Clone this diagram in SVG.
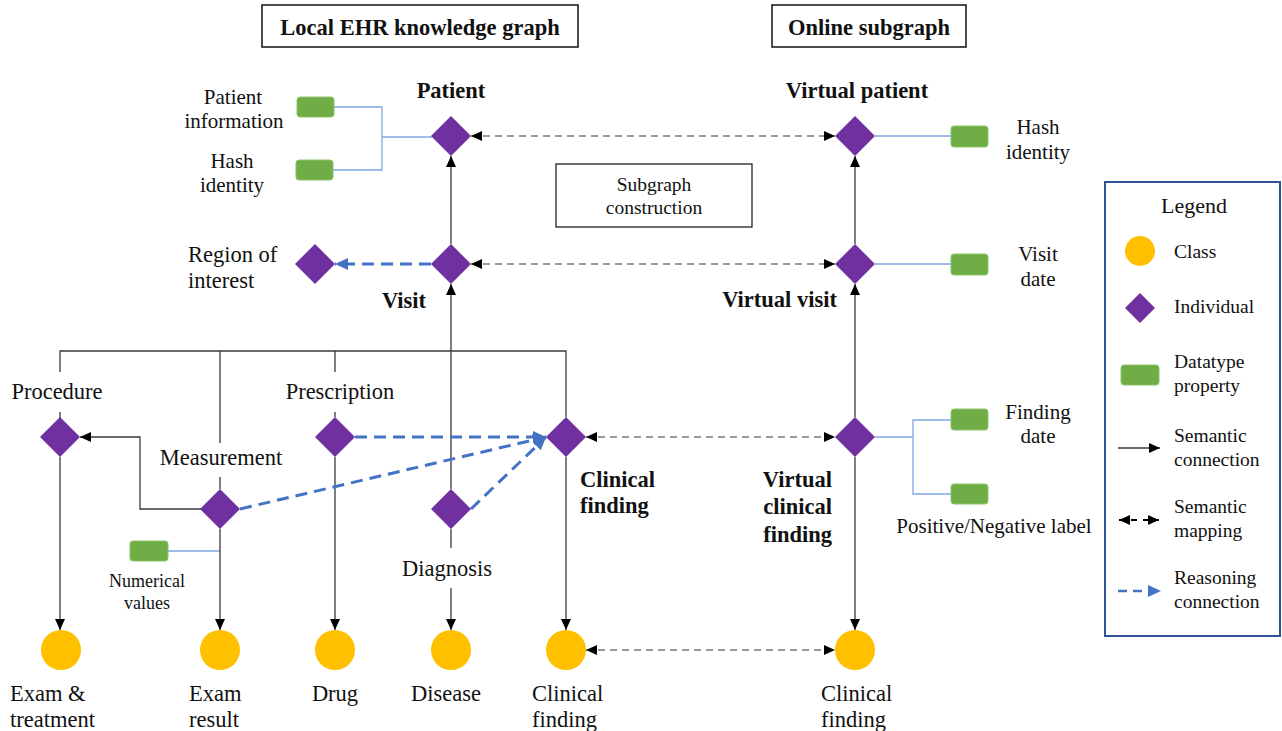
<svg xmlns="http://www.w3.org/2000/svg" xmlns:xlink="http://www.w3.org/1999/xlink" width="1282" height="731" viewBox="0 0 1282 731">
  <style>
    text { font-family: "Liberation Serif", "Times New Roman", serif; fill: #111; }
    .t21 { font-size: 21px; }
    .t22 { font-size: 22.5px; }
    .b { font-size: 22.5px; font-weight: bold; }
    .small { font-size: 18px; }
    .leg { font-size: 19.5px; }
    .mid { text-anchor: middle; }
    .end { text-anchor: end; }
    .ind { fill: #7030A0; }
    .cls { fill: #FFC000; }
    .prop { fill: #70AD47; stroke: #8CC468; stroke-width: 1; }
    .sem { fill: none; stroke: #3a3a3a; stroke-width: 1.3; }
    .map { fill: none; stroke: #7a7a7a; stroke-width: 1.6; stroke-dasharray: 7 5; }
    .reason { fill: none; stroke: #4472C4; stroke-width: 3; stroke-dasharray: 12 7; }
    .pline { fill: none; stroke: #7FA6E3; stroke-width: 1.3; }
    .frame { fill: #fff; stroke: #111; stroke-width: 1.5; }
    .mask { fill: #fff; stroke: none; }
  </style>
  <defs>
    <path id="dia" d="M0,-20 L20,0 L0,20 L-20,0 Z"/>
    <path id="dia-small" d="M0,-15 L15,0 L0,15 L-15,0 Z"/>
    <marker id="ah" viewBox="0 0 11 10" refX="11" refY="5" markerWidth="11" markerHeight="10" markerUnits="userSpaceOnUse" orient="auto-start-reverse">
      <path d="M0,0 L11,5 L0,10 Z" fill="#000"/>
    </marker>
    <marker id="ahBlue" viewBox="0 0 12 11" refX="12" refY="5.5" markerWidth="13" markerHeight="12" markerUnits="userSpaceOnUse" orient="auto-start-reverse">
      <path d="M0,0 L12,5.5 L0,11 Z" fill="#4472C4"/>
    </marker>
  </defs>

  <rect width="1282" height="731" fill="#fff"/>

  <!-- section headings -->
  <g id="heading-local">
    <rect class="frame" x="262" y="5" width="316" height="42"/>
    <text class="b mid" x="420" y="35">Local EHR knowledge graph</text>
  </g>
  <g id="heading-online">
    <rect class="frame" x="772" y="5" width="194" height="42"/>
    <text class="b mid" x="869" y="35">Online subgraph</text>
  </g>
  <g id="subgraph-construction">
    <rect x="556" y="164" width="196" height="63" fill="#fff" stroke="#222" stroke-width="1.3"/>
    <text class="leg mid" x="654" y="191">Subgraph</text>
    <text class="leg mid" x="654" y="214">construction</text>
  </g>

  <!-- connectors -->
  <g id="connectors">
    <!-- datatype property links -->
    <polyline class="pline" points="334,107 382,107 382,170 333,170"/>
    <line class="pline" x1="382" y1="137" x2="432" y2="137"/>
    <line class="pline" x1="220" y1="551" x2="168" y2="551"/>
    <line class="pline" x1="875" y1="136" x2="951" y2="136"/>
    <line class="pline" x1="875" y1="264" x2="951" y2="264"/>
    <line class="pline" x1="875" y1="437" x2="913" y2="437"/>
    <polyline class="pline" points="951,420 913,420 913,494 951,494"/>

    <!-- semantic connections (local graph) -->
    <line class="sem" x1="451" y1="244" x2="451" y2="156" marker-end="url(#ah)"/>
    <line class="sem" x1="451" y1="489" x2="451" y2="284" marker-end="url(#ah)"/>
    <polyline class="sem" points="60,418 60,351 566,351 566,417"/>
    <line class="sem" x1="220" y1="351" x2="220" y2="489"/>
    <line class="sem" x1="335" y1="351" x2="335" y2="417"/>
    <polyline class="sem" points="201,509 140,509 140,437 80,437" marker-end="url(#ah)"/>
    <line class="sem" x1="60" y1="457" x2="60" y2="630" marker-end="url(#ah)"/>
    <line class="sem" x1="220" y1="529" x2="220" y2="630" marker-end="url(#ah)"/>
    <line class="sem" x1="335" y1="457" x2="335" y2="630" marker-end="url(#ah)"/>
    <line class="sem" x1="451" y1="529" x2="451" y2="630" marker-end="url(#ah)"/>
    <line class="sem" x1="566" y1="457" x2="566" y2="630" marker-end="url(#ah)"/>

    <!-- semantic connections (online subgraph) -->
    <line class="sem" x1="855" y1="244" x2="855" y2="156" marker-end="url(#ah)"/>
    <line class="sem" x1="855" y1="417" x2="855" y2="284" marker-end="url(#ah)"/>
    <line class="sem" x1="855" y1="457" x2="855" y2="630" marker-end="url(#ah)"/>

    <!-- semantic mappings -->
    <line class="map" x1="471" y1="136" x2="835" y2="136" marker-start="url(#ah)" marker-end="url(#ah)"/>
    <line class="map" x1="471" y1="264" x2="835" y2="264" marker-start="url(#ah)" marker-end="url(#ah)"/>
    <line class="map" x1="586" y1="437" x2="835" y2="437" marker-start="url(#ah)" marker-end="url(#ah)"/>
    <line class="map" x1="586" y1="650" x2="835" y2="650" marker-start="url(#ah)" marker-end="url(#ah)"/>

    <!-- reasoning connections -->
    <line class="reason" x1="431" y1="264" x2="335" y2="264" marker-end="url(#ahBlue)"/>
    <line class="reason" x1="355" y1="437" x2="546" y2="437" marker-end="url(#ahBlue)"/>
    <line class="reason" x1="240" y1="509" x2="546" y2="437" marker-end="url(#ahBlue)"/>
    <line class="reason" x1="471" y1="509" x2="546" y2="437" marker-end="url(#ahBlue)"/>
  </g>

  <!-- local EHR knowledge graph -->
  <g id="patient">
    <use xlink:href="#dia" class="ind" x="451" y="136"/>
    <text class="b mid" x="451" y="98">Patient</text>
  </g>
  <g id="patient-information">
    <rect class="prop" x="297" y="97" width="37" height="20" rx="3"/>
    <text class="t21 mid" x="233" y="104">Patient</text>
    <text class="t21 mid" x="234" y="128">information</text>
  </g>
  <g id="patient-hash-identity">
    <rect class="prop" x="296" y="160" width="37" height="20" rx="3"/>
    <text class="t21 mid" x="232" y="168">Hash</text>
    <text class="t21 mid" x="232" y="192">identity</text>
  </g>
  <g id="visit">
    <use xlink:href="#dia" class="ind" x="451" y="264"/>
    <text class="b mid" x="404" y="308">Visit</text>
  </g>
  <g id="region-of-interest">
    <use xlink:href="#dia" class="ind" x="315" y="264"/>
    <text class="t22" x="188" y="262">Region of</text>
    <text class="t22" x="188" y="288">interest</text>
  </g>
  <g id="procedure">
    <rect class="mask" x="0" y="372" width="118" height="40"/>
    <text class="t22 mid" x="57" y="399">Procedure</text>
    <use xlink:href="#dia" class="ind" x="60" y="437"/>
  </g>
  <g id="measurement">
    <rect class="mask" x="150" y="443" width="149" height="34"/>
    <text class="t22 mid" x="221" y="465">Measurement</text>
    <use xlink:href="#dia" class="ind" x="220" y="509"/>
  </g>
  <g id="numerical-values">
    <rect class="prop" x="130" y="541" width="38" height="20" rx="3"/>
    <text class="small mid" x="147" y="587">Numerical</text>
    <text class="small mid" x="147" y="609">values</text>
  </g>
  <g id="prescription">
    <rect class="mask" x="272" y="372" width="138" height="40"/>
    <text class="t22 mid" x="340" y="399">Prescription</text>
    <use xlink:href="#dia" class="ind" x="335" y="437"/>
  </g>
  <g id="diagnosis">
    <use xlink:href="#dia" class="ind" x="451" y="509"/>
    <rect class="mask" x="388" y="548" width="120" height="40"/>
    <text class="t22 mid" x="447" y="576">Diagnosis</text>
  </g>
  <g id="clinical-finding">
    <use xlink:href="#dia" class="ind" x="566" y="437"/>
    <text class="b" x="580" y="487">Clinical</text>
    <text class="b" x="580" y="513">finding</text>
  </g>

  <!-- classes -->
  <g id="exam-treatment">
    <circle class="cls" cx="61" cy="650" r="20"/>
    <text class="t22" x="10" y="701">Exam &amp;</text>
    <text class="t22" x="10" y="727">treatment</text>
  </g>
  <g id="exam-result">
    <circle class="cls" cx="220" cy="650" r="20"/>
    <text class="t22" x="189" y="701">Exam</text>
    <text class="t22" x="189" y="727">result</text>
  </g>
  <g id="drug">
    <circle class="cls" cx="335" cy="650" r="20"/>
    <text class="t22 mid" x="335" y="701">Drug</text>
  </g>
  <g id="disease">
    <circle class="cls" cx="451" cy="650" r="20"/>
    <text class="t22 mid" x="446" y="701">Disease</text>
  </g>
  <g id="clinical-finding-class">
    <circle class="cls" cx="566" cy="650" r="20"/>
    <text class="t22" x="532" y="701">Clinical</text>
    <text class="t22" x="532" y="727">finding</text>
  </g>

  <!-- online subgraph -->
  <g id="virtual-patient">
    <use xlink:href="#dia" class="ind" x="855" y="136"/>
    <text class="b mid" x="857" y="98">Virtual patient</text>
  </g>
  <g id="virtual-hash-identity">
    <rect class="prop" x="951" y="126" width="37" height="21" rx="3"/>
    <text class="t21 mid" x="1038" y="134">Hash</text>
    <text class="t21 mid" x="1038" y="159">identity</text>
  </g>
  <g id="virtual-visit">
    <use xlink:href="#dia" class="ind" x="855" y="264"/>
    <text class="b end" x="837" y="307">Virtual visit</text>
  </g>
  <g id="visit-date">
    <rect class="prop" x="951" y="254" width="37" height="21" rx="3"/>
    <text class="t21 mid" x="1038" y="261">Visit</text>
    <text class="t21 mid" x="1038" y="286">date</text>
  </g>
  <g id="virtual-clinical-finding">
    <use xlink:href="#dia" class="ind" x="855" y="437"/>
    <text class="b end" x="832" y="487">Virtual</text>
    <text class="b end" x="832" y="514">clinical</text>
    <text class="b end" x="832" y="542">finding</text>
  </g>
  <g id="finding-date">
    <rect class="prop" x="951" y="409" width="37" height="21" rx="3"/>
    <text class="t21 mid" x="1038" y="419">Finding</text>
    <text class="t21 mid" x="1038" y="443">date</text>
  </g>
  <g id="positive-negative-label">
    <rect class="prop" x="951" y="484" width="37" height="20" rx="3"/>
    <text class="t21 mid" x="994" y="533">Positive/Negative label</text>
  </g>
  <g id="virtual-clinical-finding-class">
    <circle class="cls" cx="855" cy="650" r="20"/>
    <text class="t22" x="821" y="701">Clinical</text>
    <text class="t22" x="821" y="727">finding</text>
  </g>

  <!-- legend -->
  <g id="legend">
    <rect x="1105" y="182" width="175" height="454" fill="#fff" stroke="#2F5597" stroke-width="2"/>
    <text class="mid" x="1194" y="213" style="font-size:22px">Legend</text>
    <circle class="cls" cx="1140" cy="251" r="15"/>
    <text class="leg" x="1174" y="258">Class</text>
    <use xlink:href="#dia-small" class="ind" x="1140" y="308"/>
    <text class="leg" x="1174" y="313">Individual</text>
    <rect class="prop" x="1121" y="365" width="38" height="20" rx="3"/>
    <text class="leg" x="1174" y="368">Datatype</text>
    <text class="leg" x="1174" y="392">property</text>
    <line class="sem" x1="1118" y1="448" x2="1160" y2="448" marker-end="url(#ah)"/>
    <text class="leg" x="1174" y="442">Semantic</text>
    <text class="leg" x="1174" y="466">connection</text>
    <line x1="1119" y1="520" x2="1159" y2="520" stroke="#000" stroke-width="2" stroke-dasharray="6 6" marker-start="url(#ah)" marker-end="url(#ah)"/>
    <text class="leg" x="1174" y="513">Semantic</text>
    <text class="leg" x="1174" y="537">mapping</text>
    <line x1="1118" y1="591" x2="1161" y2="591" stroke="#4472C4" stroke-width="2.5" stroke-dasharray="9 6" marker-end="url(#ahBlue)"/>
    <text class="leg" x="1174" y="584">Reasoning</text>
    <text class="leg" x="1174" y="608">connection</text>
  </g>
</svg>
